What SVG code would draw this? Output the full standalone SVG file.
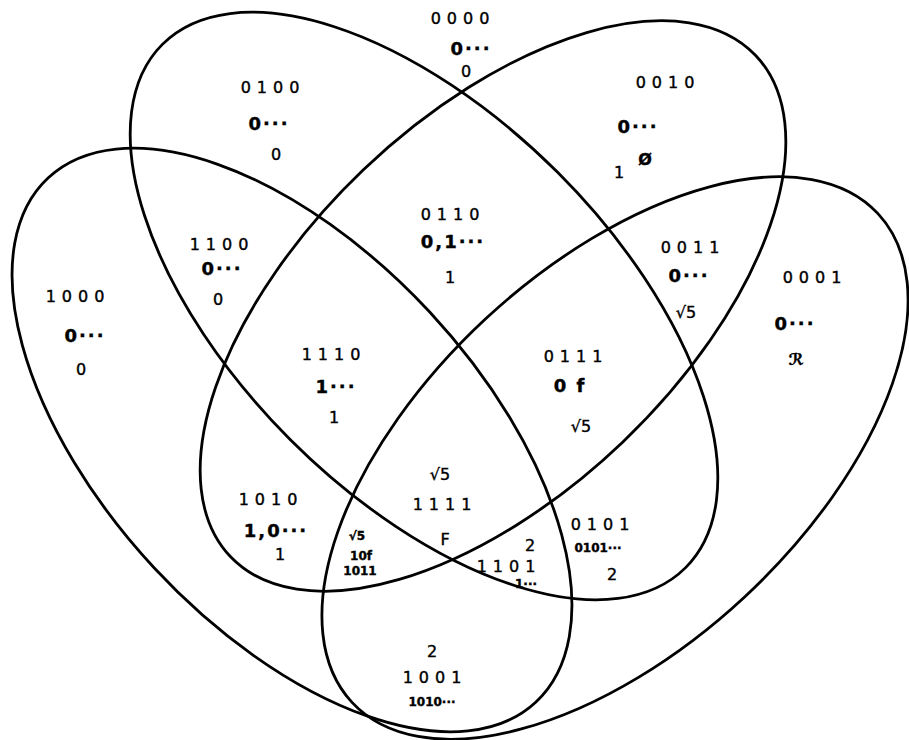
<svg xmlns="http://www.w3.org/2000/svg" width="909" height="740" viewBox="0 0 909 740">
<style>
.ell{fill:none;stroke:#000;stroke-width:2.8}
text{font-family:"DejaVu Sans","Liberation Sans",sans-serif;fill:#000;text-anchor:middle;stroke:#000;stroke-width:0.4}
.code{font-size:16px;letter-spacing:6px}
.val{font-size:18px;font-weight:bold;letter-spacing:2px}
.one{font-size:16px}
.sm{font-size:12px;font-weight:bold}
</style>
<rect width="909" height="740" fill="#fff"/>
<g id="ellipses">
<ellipse id="set1" class="ell" cx="292" cy="440" rx="358" ry="188" transform="rotate(47.1 292 440)"/>
<ellipse id="set2" class="ell" cx="424" cy="306" rx="370" ry="189" transform="rotate(45 424 306)"/>
<ellipse id="set3" class="ell" cx="493" cy="306" rx="363" ry="188" transform="rotate(-43.7 493 306)"/>
<ellipse id="set4" class="ell" cx="615" cy="458" rx="359" ry="190" transform="rotate(-42.9 615 458)"/>
</g>
<g id="r0000"><text class="code" x="463" y="24">0000</text><text class="val" x="471" y="55">0···</text><text class="one" x="466" y="77">0</text></g>
<g id="r0100"><text class="code" x="273" y="93">0100</text><text class="val" x="269" y="130">0···</text><text class="one" x="276" y="160">0</text></g>
<g id="r0010"><text class="code" x="668" y="88">0010</text><text class="val" x="638" y="133">0···</text><text class="one" x="619" y="178">1</text><text class="one" x="645" y="165" font-weight="bold">Ø</text></g>
<g id="r1100"><text class="code" x="222" y="250">1100</text><text class="val" x="222" y="275">0···</text><text class="one" x="218" y="305">0</text></g>
<g id="r1000"><text class="code" x="78" y="302">1000</text><text class="val" x="85" y="342">0···</text><text class="one" x="81" y="375">0</text></g>
<g id="r0110"><text class="code" x="453" y="220">0110</text><text class="val" x="453" y="248">0,1···</text><text class="one" x="450" y="283">1</text></g>
<g id="r0011"><text class="code" x="693" y="253">0011</text><text class="val" x="689" y="282">0···</text><text class="one" x="686" y="318">√5</text></g>
<g id="r0001"><text class="code" x="815" y="283">0001</text><text class="val" x="795" y="330">0···</text><text class="one" x="796" y="365" font-weight="bold">ℛ</text></g>
<g id="r1110"><text class="code" x="334" y="360">1110</text><text class="val" x="336" y="393">1···</text><text class="one" x="334" y="423">1</text></g>
<g id="r0111"><text class="code" x="576" y="362">0111</text><text class="val" x="570" y="392">0 f</text><text class="one" x="581" y="432">√5</text></g>
<g id="r1111"><text class="one" x="440" y="480">√5</text><text class="code" x="445" y="510">1111</text><text class="one" x="445" y="545" font-size="20">F</text></g>
<g id="r1010"><text class="code" x="271" y="505">1010</text><text class="val" x="276" y="537">1,0···</text><text class="one" x="280" y="560">1</text></g>
<g id="r1011"><text class="sm" x="357" y="540">√5</text><text class="sm" x="361" y="560">10f</text><text class="sm" x="360" y="575" font-weight="normal">1011</text></g>
<g id="r1101"><text class="one" x="530" y="551">2</text><text class="code" x="509" y="572">1101</text><text class="sm" x="526" y="588">1···</text></g>
<g id="r0101"><text class="code" x="603" y="530">0101</text><text class="sm" x="598" y="552">0101···</text><text class="one" x="612" y="580">2</text></g>
<g id="r1001"><text class="one" x="432" y="657">2</text><text class="code" x="435" y="683">1001</text><text class="sm" x="432" y="706">1010···</text></g>
</svg>
